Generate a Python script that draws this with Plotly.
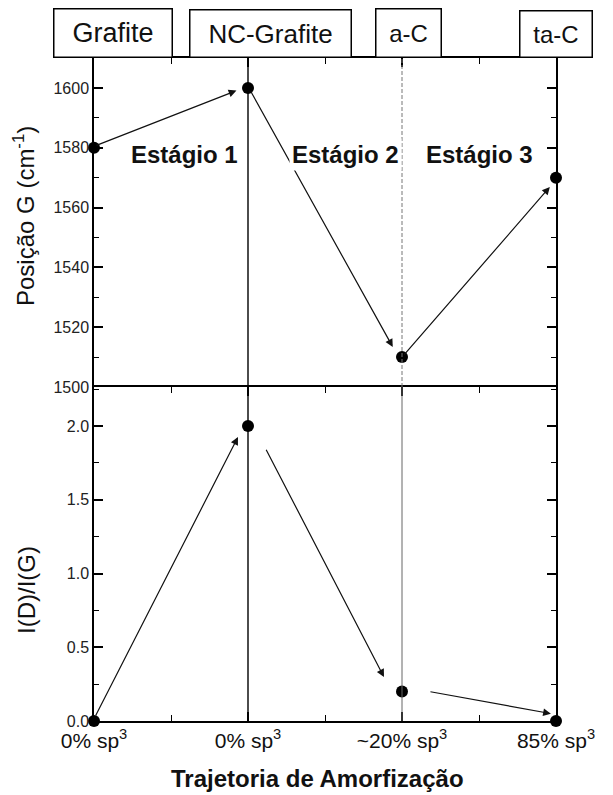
import plotly.graph_objects as go

# Amorphization trajectory of carbon: G-peak position and I(D)/I(G) ratio
trajectory_pos = [0, 1, 2, 3]
stage_names = ["Grafite", "NC-Grafite", "a-C", "ta-C"]
sp3_labels = ["0% sp<sup>3</sup>", "0% sp<sup>3</sup>", "~20% sp<sup>3</sup>", "85% sp<sup>3</sup>"]
g_position = [1580, 1600, 1510, 1570]
id_ig_ratio = [0.0, 2.0, 0.2, 0.0]
stage_labels = ["Estágio 1", "Estágio 2", "Estágio 3"]

# Trend arrows (tail x, tail y, head x, head y) in data units
arrows_top = [
    (0.006, 1580.6, 0.925, 1599.1),
    (1.013, 1599.3, 1.940, 1513.4),
    (2.006, 1510.3, 2.960, 1566.9),
]
arrows_bottom = [
    (0.006, 0.027, 0.935, 1.926),
    (1.113, 1.850, 1.883, 0.298),
    (2.175, 0.200, 2.967, 0.050),
]

FONT = "Liberation Sans, Arial, sans-serif"
W, H = 613, 795
L, R, T, B = 94, 57, 58, 74
PW, PH = W - L - R, H - T - B
split = (721 - 387) / PH


def px_to_paper(px, py):
    return (px - L) / PW, (H - B - py) / PH


fig = go.Figure()

fig.add_trace(go.Scatter(
    x=trajectory_pos, y=id_ig_ratio, xaxis="x", yaxis="y",
    mode="markers", marker=dict(color="black", size=12),
    cliponaxis=False, hoverinfo="skip",
))
fig.add_trace(go.Scatter(
    x=trajectory_pos, y=g_position, xaxis="x2", yaxis="y2",
    mode="markers", marker=dict(color="black", size=12),
    cliponaxis=False, hoverinfo="skip",
))


def axis_style(**kw):
    base = dict(
        showline=True, linecolor="black", linewidth=1.5,
        ticks="inside", tickcolor="black", tickwidth=1.5,
        showgrid=False, zeroline=False, layer="above traces",
    )
    base.update(kw)
    return base


def minor_ticks(step, start=0, length=6):
    return dict(dtick=step, tick0=start, ticks="inside", ticklen=length,
                tickwidth=1.3, tickcolor="black", showgrid=False)


fig.update_layout(
    width=W, height=H,
    margin=dict(l=L, r=R, t=T, b=B, pad=0),
    paper_bgcolor="white", plot_bgcolor="rgba(0,0,0,0)",
    showlegend=False,
    font=dict(family=FONT, color="black"),
    xaxis=axis_style(
        domain=[0, 1], anchor="y", range=[0, 3],
        tickmode="array", tickvals=trajectory_pos, ticktext=sp3_labels,
        tickfont=dict(size=21, color="#111"),
        ticklen=9, mirror="ticks",
        minor=minor_ticks(0.5),
    ),
    xaxis2=axis_style(
        domain=[0, 1], anchor="y2", range=[0, 3], side="top",
        tickmode="array", tickvals=trajectory_pos, showticklabels=False,
        ticklen=9, minor=minor_ticks(0.5),
    ),
    yaxis=axis_style(
        domain=[0, split], anchor="x", range=[0, 2.265],
        tickmode="linear", tick0=0, dtick=0.5, tickformat=".1f",
        tickfont=dict(size=16, color="#222"),
        ticklen=9, mirror="ticks",
        minor=minor_ticks(0.25, 0, 5),
    ),
    yaxis2=axis_style(
        domain=[split, 1], anchor="x2", range=[1500, 1610],
        tickmode="linear", tick0=1500, dtick=20,
        tickfont=dict(size=16, color="#222"),
        ticklen=9, mirror="ticks",
        minor=minor_ticks(10, 1500, 5),
    ),
)

# Stage boundaries
fig.add_shape(type="line", xref="x", yref="paper", x0=1, x1=1, y0=0, y1=1,
              line=dict(color="black", width=1.4))
fig.add_shape(type="line", xref="x2", yref="y2", x0=2, x1=2, y0=1500, y1=1610,
              line=dict(color="#777", width=1, dash="4px,2px"))
fig.add_shape(type="line", xref="x", yref="y", x0=2, x1=2, y0=0, y1=2.265,
              line=dict(color="#666", width=1))

annotations = []
for tx, ty, hx, hy in arrows_top:
    annotations.append(dict(
        x=hx, y=hy, ax=tx, ay=ty, xref="x2", yref="y2", axref="x2", ayref="y2",
        text="", showarrow=True, arrowhead=2, arrowsize=1.3, arrowwidth=1.2,
        arrowcolor="#111", standoff=0, startstandoff=0,
    ))
for tx, ty, hx, hy in arrows_bottom:
    annotations.append(dict(
        x=hx, y=hy, ax=tx, ay=ty, xref="x", yref="y", axref="x", ayref="y",
        text="", showarrow=True, arrowhead=2, arrowsize=1.3, arrowwidth=1.2,
        arrowcolor="#111", standoff=0, startstandoff=0,
    ))

# Stage labels in the upper panel
for label, xpos in zip(stage_labels, [0.59, 1.635, 2.5]):
    annotations.append(dict(
        x=xpos, y=1577.6, xref="x2", yref="y2", text=f"<b>{label}</b>",
        showarrow=False, font=dict(size=24, color="#111"),
        bgcolor="white", borderpad=2,
    ))

# Phase boxes above the plot
boxes = [(53, 172, 9), (189, 351, 10), (375, 441, 9), (519, 592, 11)]
box_font = [27, 26, 24, 24]
for name, (x0, x1, top), fs in zip(stage_names, boxes, box_font):
    cx, cy = px_to_paper((x0 + x1) / 2, (top + 58) / 2)
    annotations.append(dict(
        x=cx, y=cy, xref="paper", yref="paper", text=name, showarrow=False,
        xanchor="center", yanchor="middle",
        width=x1 - x0 - 2, height=58 - top - 2,
        bordercolor="black", borderwidth=1.5, borderpad=0, bgcolor="white",
        font=dict(size=fs, color="#111"),
    ))

# Axis titles
tx, ty = px_to_paper(24, 216)
annotations.append(dict(
    x=tx, y=ty, xref="paper", yref="paper", text="Posição G (cm<sup>-1</sup>)",
    textangle=-90, showarrow=False, xanchor="center", yanchor="middle",
    font=dict(size=24, color="#111"),
))
tx, ty = px_to_paper(26, 590)
annotations.append(dict(
    x=tx, y=ty, xref="paper", yref="paper", text="I(D)/I(G)",
    textangle=-90, showarrow=False, xanchor="center", yanchor="middle",
    font=dict(size=24, color="#111"),
))
tx, ty = px_to_paper(317, 778)
annotations.append(dict(
    x=tx, y=ty, xref="paper", yref="paper", text="<b>Trajetoria de Amorfização</b>",
    showarrow=False, xanchor="center", yanchor="middle",
    font=dict(size=24, color="#111"),
))

fig.update_layout(annotations=annotations)

fig.write_html("out.html")
